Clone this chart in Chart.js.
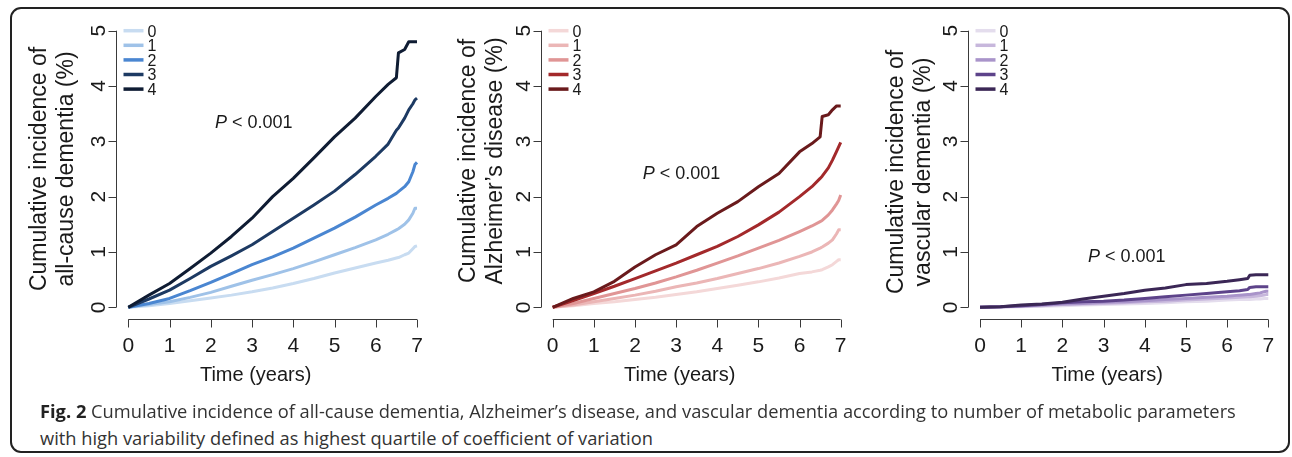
<!DOCTYPE html>
<html><head><meta charset="utf-8">
<script src="https://cdn.jsdelivr.net/npm/chart.js@4"></script>
<style>
html,body{margin:0;padding:0;background:#fff;}
#wrap{position:relative;width:1292px;height:457px;overflow:hidden;background:#fff;}
#box{position:absolute;left:10px;top:7px;width:1280px;height:446px;box-sizing:border-box;border:2px solid #222;border-radius:11px;}
canvas{position:absolute;top:0;}
.cap{position:absolute;left:40px;font-family:"Open Sans",sans-serif;color:#333;white-space:nowrap;line-height:1;}
.cap b{color:#222;}
</style></head>
<body>
<div id="wrap">
  <div id="box"></div>
  <canvas id="c1" width="430" height="400" style="left:0px"></canvas>
  <canvas id="c2" width="430" height="400" style="left:430px"></canvas>
  <canvas id="c3" width="432" height="400" style="left:860px"></canvas>
  <div class="cap" id="cap1"><b>Fig. 2</b> Cumulative incidence of all-cause dementia, Alzheimer’s disease, and vascular dementia according to number of metabolic parameters</div>
  <div class="cap" id="cap2">with high variability defined as highest quartile of coefficient of variation</div>
</div>
<script>
// ---------------- data ----------------
const years = [0,0.5,1,1.5,2,2.5,3,3.5,4,4.5,5,5.5,6,6.3,6.5,6.55,6.7,6.8,6.9,6.95,7];
const groupLabels = ['0','1','2','3','4'];
const xTicks = [0,1,2,3,4,5,6,7];
const yTicks = [0,1,2,3,4,5];
const pText = 'P';
const pRest = ' < 0.001';

// all-cause dementia
const allCause0 = [0,0.03,0.07,0.12,0.17,0.22,0.28,0.35,0.43,0.52,0.62,0.71,0.80,0.85,0.89,0.90,0.95,0.98,1.06,1.10,1.11];
const allCause1 = [0,0.05,0.10,0.18,0.27,0.38,0.49,0.59,0.70,0.82,0.95,1.08,1.22,1.32,1.40,1.42,1.50,1.58,1.70,1.79,1.79];
const allCause2 = [0,0.07,0.16,0.30,0.45,0.61,0.77,0.91,1.07,1.25,1.43,1.63,1.85,1.97,2.06,2.09,2.18,2.27,2.45,2.58,2.62];
const allCause3 = [0,0.15,0.31,0.52,0.74,0.93,1.13,1.37,1.61,1.85,2.10,2.40,2.73,2.95,3.20,3.24,3.42,3.57,3.68,3.75,3.78];
const allCause4 = [0,0.22,0.43,0.70,0.98,1.28,1.61,2.00,2.33,2.70,3.08,3.42,3.81,4.03,4.15,4.60,4.66,4.80,4.80,4.80,4.80];

// Alzheimer's disease
const alz0 = [0,0.03,0.07,0.10,0.14,0.18,0.23,0.28,0.34,0.40,0.46,0.53,0.61,0.64,0.67,0.68,0.73,0.77,0.83,0.86,0.86];
const alz1 = [0,0.04,0.10,0.16,0.22,0.29,0.37,0.44,0.52,0.61,0.70,0.80,0.92,1.00,1.07,1.09,1.16,1.22,1.33,1.40,1.40];
const alz2 = [0,0.07,0.16,0.25,0.34,0.44,0.55,0.67,0.80,0.93,1.07,1.21,1.37,1.47,1.55,1.57,1.67,1.76,1.87,1.93,2.03];
const alz3 = [0,0.12,0.25,0.38,0.52,0.66,0.80,0.95,1.10,1.28,1.49,1.72,2.00,2.18,2.33,2.37,2.52,2.66,2.82,2.90,2.98];
const alz4 = [0,0.16,0.28,0.47,0.73,0.95,1.13,1.46,1.70,1.91,2.18,2.42,2.81,2.96,3.08,3.45,3.48,3.57,3.64,3.64,3.64];

// vascular dementia
const vasc0 = [0,0.00,0.01,0.02,0.03,0.04,0.05,0.06,0.07,0.08,0.10,0.11,0.13,0.14,0.14,0.14,0.15,0.15,0.16,0.16,0.16];
const vasc1 = [0,0.01,0.02,0.03,0.05,0.06,0.07,0.08,0.10,0.11,0.13,0.15,0.17,0.18,0.19,0.19,0.20,0.21,0.22,0.23,0.23];
const vasc2 = [0,0.01,0.02,0.04,0.06,0.07,0.09,0.10,0.12,0.14,0.16,0.18,0.20,0.22,0.23,0.23,0.25,0.26,0.28,0.29,0.29];
const vasc3 = [0,0.01,0.03,0.05,0.08,0.10,0.11,0.13,0.16,0.19,0.22,0.25,0.28,0.30,0.32,0.36,0.37,0.37,0.37,0.37,0.37];
const vasc4 = [0,0.01,0.04,0.06,0.09,0.15,0.20,0.25,0.31,0.35,0.41,0.43,0.47,0.50,0.52,0.58,0.59,0.59,0.59,0.59,0.59];

const yTitleAll = ['Cumulative incidence of', 'all-cause dementia (%)'];
const yTitleAlz = ['Cumulative incidence of', 'Alzheimer’s disease (%)'];
const yTitleVasc = ['Cumulative incidence of', 'vascular dementia (%)'];
const xTitle = 'Time (years)';

// ---------------- styles ----------------
const blues   = ['#c8dcf1','#9fc2e8','#4a86d1','#1d3a63','#0f1c33'];
const reds    = ['#f4d8d8','#ebb6b6','#e09595','#a3292b','#6a1a1c'];
const purples = ['#e4dded','#c7b7dc','#a994ca','#5d438a','#3b2756'];

const XMIN=-0.35, XMAX=7.1, YMIN=-0.3, YMAX=5.1;
const FONT='"Liberation Sans", Arial, sans-serif';

const rAxes = {
  id: 'rAxes',
  afterDraw(chart) {
    const o = chart.options.plugins.rAxes;
    const ctx = chart.ctx, xs = chart.scales.x, ys = chart.scales.y;
    const X0 = xs.getPixelForValue(xTicks[0]), X7 = xs.getPixelForValue(xTicks[xTicks.length-1]);
    const Y0 = ys.getPixelForValue(yTicks[0]), Y5 = ys.getPixelForValue(yTicks[yTicks.length-1]);
    const ax = Math.round(X0 - 12) + 0.5, ay = Math.round(Y0 + 12) + 0.5;
    ctx.save();
    ctx.strokeStyle = '#3a3a3a'; ctx.lineWidth = 1;
    ctx.beginPath();
    ctx.moveTo(ax, Y0); ctx.lineTo(ax, Y5);
    yTicks.forEach(v => { const p = Math.round(ys.getPixelForValue(v)) + 0.5; ctx.moveTo(ax, p); ctx.lineTo(ax - 8, p); });
    ctx.moveTo(X0, ay); ctx.lineTo(X7, ay);
    xTicks.forEach(v => { const p = Math.round(xs.getPixelForValue(v)) + 0.5; ctx.moveTo(p, ay); ctx.lineTo(p, ay + 8); });
    ctx.stroke();

    ctx.fillStyle = '#1a1a1a';
    ctx.font = '21px ' + FONT;
    ctx.textAlign = 'center'; ctx.textBaseline = 'alphabetic';
    xTicks.forEach(v => ctx.fillText(String(v), xs.getPixelForValue(v), ay + 32));
    yTicks.forEach(v => {
      ctx.save(); ctx.translate(ax - 11.5, ys.getPixelForValue(v)); ctx.rotate(-Math.PI/2);
      ctx.fillText(String(v), 0, 0); ctx.restore();
    });
    // x title
    ctx.font = '20px ' + FONT;
    ctx.fillText(xTitle, (X0 + X7)/2 - 17, ay + 61);
    // y title
    ctx.font = '23px ' + FONT;
    o.yTitle.forEach((t, i) => {
      ctx.save(); ctx.translate(ax + o.yTitleBase[i], o.yTitleCenter); ctx.rotate(-Math.PI/2);
      ctx.fillText(t, 0, 0); ctx.restore();
    });
    // legend
    ctx.textAlign = 'left';
    ctx.font = '16px ' + FONT;
    chart.data.datasets.forEach((ds, i) => {
      const y = Y5 + i * 14.6;
      ctx.strokeStyle = ds.borderColor; ctx.lineWidth = 3.5;
      ctx.beginPath(); ctx.moveTo(ax + 7, y); ctx.lineTo(ax + 27, y); ctx.stroke();
      ctx.fillStyle = '#1a1a1a';
      ctx.fillText(ds.label, ax + 31, y + 5.8);
    });
    // P value
    const px = xs.getPixelForValue(o.pPos[0]), py = ys.getPixelForValue(o.pPos[1]) + 6.5;
    ctx.font = 'italic 18px ' + FONT;
    ctx.fillText(pText, px, py);
    const w = ctx.measureText(pText).width;
    ctx.font = '18px ' + FONT;
    ctx.fillText(pRest, px + w, py);
    ctx.restore();
  }
};

function makePanel(id, canvasLeft, canvasW, X0, X7, series, colors, yTitle, yTitleBase, yTitleCenter, pPos) {
  const ppx = (X7 - X0) / 7, ppy = (307.3 - 30.7) / 5;
  const left = (X0 - canvasLeft) + XMIN * ppx;
  const right = canvasW - ((X7 - canvasLeft) + (XMAX - 7) * ppx);
  const top = 30.7 - (YMAX - 5) * ppy;
  const bottom = 400 - (307.3 - YMIN * ppy);
  new Chart(document.getElementById(id), {
    type: 'line',
    data: {
      datasets: series.map((vals, i) => ({
        label: groupLabels[i],
        data: years.map((t, k) => ({ x: t, y: vals[k] })),
        borderColor: colors[i], backgroundColor: colors[i],
        borderWidth: 3, pointRadius: 0, tension: 0, fill: false, order: 4 - i,
        borderJoinStyle: 'round', borderCapStyle: 'butt'
      }))
    },
    options: {
      responsive: false, animation: false, devicePixelRatio: 1,
      layout: { padding: { left, right, top, bottom } },
      scales: {
        x: { type: 'linear', min: XMIN, max: XMAX, display: false },
        y: { type: 'linear', min: YMIN, max: YMAX, display: false }
      },
      plugins: {
        legend: { display: false }, tooltip: { enabled: false },
        rAxes: { yTitle, yTitleBase, yTitleCenter, pPos }
      }
    },
    plugins: [rAxes]
  });
}

makePanel('c1', 0, 430, 128.3, 417, [allCause0, allCause1, allCause2, allCause3, allCause4], blues,
  yTitleAll, [-71, -44], 169, [2.1, 3.35]);
makePanel('c2', 430, 430, 552.7, 840.7, [alz0, alz1, alz2, alz3, alz4], reds,
  yTitleAlz, [-67, -40], 161, [2.19, 2.43]);
makePanel('c3', 860, 432, 980, 1268.3, [vasc0, vasc1, vasc2, vasc3, vasc4], purples,
  yTitleVasc, [-66, -39], 172, [2.62, 0.94]);

// caption fit
(function(){
  const c1 = document.getElementById('cap1'), c2 = document.getElementById('cap2');
  c1.style.fontSize = '20px'; c2.style.fontSize = '20px';
  const w = c1.getBoundingClientRect().width;
  const fs = 20 * 1197 / w;
  c1.style.fontSize = fs + 'px'; c2.style.fontSize = fs + 'px';
  c1.style.top = (418 - fs * 0.90) + 'px';
  c2.style.top = (445 - fs * 0.90) + 'px';
})();
</script>
</body></html>
